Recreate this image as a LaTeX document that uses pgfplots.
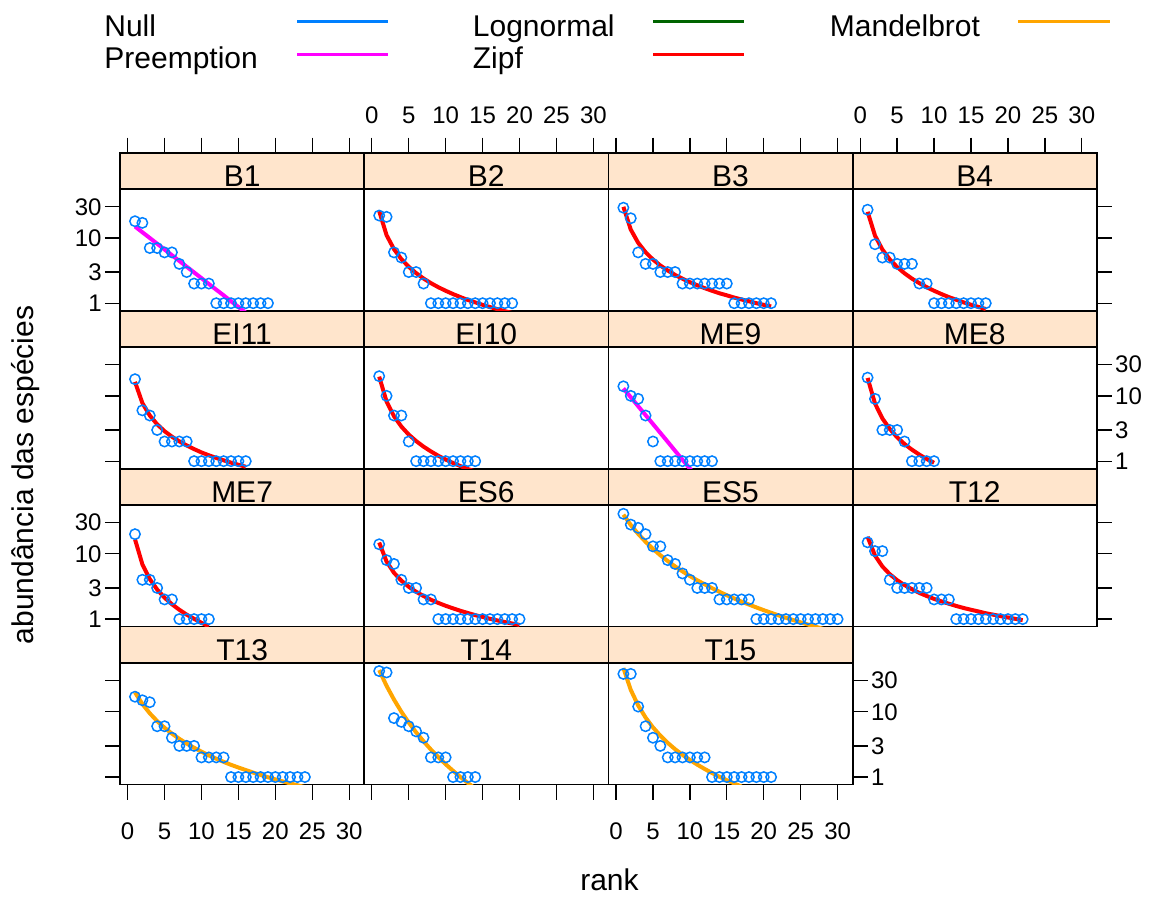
\documentclass[border=0pt]{standalone}
\usepackage{pgfplots}
\pgfplotsset{compat=1.18}
\usepackage{fontspec}
\setmainfont{Liberation Sans}

\definecolor{nullblue}{HTML}{0080FF}
\definecolor{premag}{HTML}{FF00FF}
\definecolor{lognorm}{HTML}{006400}
\definecolor{zipfred}{HTML}{FF0000}
\definecolor{mandel}{HTML}{FFA500}
\definecolor{stripbg}{HTML}{FFE5CC}

\newcommand\lab{\fontsize{15}{18}\selectfont}
\newcommand\tickf{\fontsize{12}{14}\selectfont}

\pgfplotsset{
  radbase/.style={scale only axis, width=122.1pt, xmin=-1.03, xmax=32.03,
    anchor=south west, axis line style={line width=0.9pt},
    tick align=outside, major tick length=7.5pt,
    tick style={black, line width=0.65pt},
    xtick=\empty, ytick=\empty,
    /pgf/number format/assume math mode=true,
    tick label style={font=\tickf}},
  radpanel/.style={radbase, height=60.675pt, ymin=0.769, ymax=55.5, clip=true},
  radstrip/.style={radbase, height=18.3pt, ymin=0, ymax=1,
    axis background/.style={fill=stripbg}},
  yL/.style={ytick={1,3,10,30}, yticklabels={1,3,10,30}, ytick pos=left, yticklabel pos=left,
    yticklabel style={inner sep=1.5pt}},
  yLn/.style={ytick={1,3,10,30}, yticklabels={}, ytick pos=left},
  yR/.style={ytick={1,3,10,30}, yticklabels={1,3,10,30}, ytick pos=right, yticklabel pos=right,
    yticklabel style={inner sep=1.5pt}},
  yRn/.style={ytick={1,3,10,30}, yticklabels={}, ytick pos=right},
  xB/.style={xtick={0,5,...,30}, xtick pos=left, xticklabel pos=left,
    xticklabel style={yshift=-8pt}},
  xBn/.style={xtick={0,5,...,30}, xticklabels={}, xtick pos=left},
  xT/.style={xtick={0,5,...,30}, xtick pos=right, xticklabel pos=right,
    xticklabel style={yshift=3.5pt}},
  xTn/.style={xtick={0,5,...,30}, xticklabels={}, xtick pos=right},
  pts/.style={only marks, mark=o, color=nullblue, mark size=2.6pt,
    mark options={line width=0.75pt}},
  radfit/.style={no marks, line width=2pt},
}

% strip above a panel: position, label, extra axis options
\newcommand\strip[4]{%
  \begin{axis}[radstrip, at={(#1,#2)}, #4]
    \node[anchor=base, font=\lab, inner sep=0pt] at (axis description cs:0.5,0.085) {#3};
  \end{axis}}

\begin{document}
\begin{tikzpicture}

% ---- legend ----
\node[anchor=base west, inner sep=0pt, font=\lab] at (52pt,-18.25pt) {Null};
\node[anchor=base west, inner sep=0pt, font=\lab] at (52pt,-34pt) {Preemption};
\node[anchor=base west, inner sep=0pt, font=\lab] at (236.25pt,-18.25pt) {Lognormal};
\node[anchor=base west, inner sep=0pt, font=\lab] at (236.25pt,-34pt) {Zipf};
\node[anchor=base west, inner sep=0pt, font=\lab] at (414.75pt,-18.25pt) {Mandelbrot};
\draw[nullblue, line width=1.65pt] (148.5pt,-10.85pt) -- (194pt,-10.85pt);
\draw[premag, line width=1.65pt] (148.5pt,-27.15pt) -- (194pt,-27.15pt);
\draw[lognorm, line width=1.65pt] (326.5pt,-10.85pt) -- (372pt,-10.85pt);
\draw[zipfred, line width=1.65pt] (326.5pt,-27.15pt) -- (372pt,-27.15pt);
\draw[mandel, line width=1.65pt] (509pt,-10.85pt) -- (555pt,-10.85pt);

% ---- strips ----
\strip{60pt}{-94.65pt}{B1}{xTn}
\strip{182.1pt}{-94.65pt}{B2}{xT}
\strip{304.2pt}{-94.65pt}{B3}{xTn}
\strip{426.3pt}{-94.65pt}{B4}{xT}
\strip{60pt}{-173.625pt}{EI11}{}
\strip{182.1pt}{-173.625pt}{EI10}{}
\strip{304.2pt}{-173.625pt}{ME9}{}
\strip{426.3pt}{-173.625pt}{ME8}{}
\strip{60pt}{-252.6pt}{ME7}{}
\strip{182.1pt}{-252.6pt}{ES6}{}
\strip{304.2pt}{-252.6pt}{ES5}{}
\strip{426.3pt}{-252.6pt}{T12}{}
\strip{60pt}{-331.575pt}{T13}{}
\strip{182.1pt}{-331.575pt}{T14}{}
\strip{304.2pt}{-331.575pt}{T15}{}

% ---- row 1 ----
\begin{axis}[ymode=log, radpanel, yL, at={(60pt,-155.325pt)}]
\addplot[pts] coordinates {(1,18)(2,17)(3,7)(4,7)(5,6)(6,6)(7,4)(8,3)(9,2)(10,2)(11,2)
 (12,1)(13,1)(14,1)(15,1)(16,1)(17,1)(18,1)(19,1)};
\addplot[radfit, premag] coordinates {(1,14.96)(2,12.2)(3,9.98)(4,8.15)(5,6.65)(6,5.43)(7,4.44)
 (8,3.62)(9,2.96)(10,2.42)(11,1.97)(12,1.61)(13,1.32)(14,1.07)(15,0.877)(16,0.716)(17,0.585)
 (18,0.478)(19,0.390)};
\end{axis}

\begin{axis}[ymode=log, radpanel, at={(182.1pt,-155.325pt)}]
\addplot[pts] coordinates {(1,22)(2,21)(3,6)(4,5)(5,3)(6,3)(7,2)(8,1)(9,1)(10,1)(11,1)(12,1)
 (13,1)(14,1)(15,1)(16,1)(17,1)(18,1)(19,1)};
\addplot[radfit, zipfred] coordinates {(1,25.7)(2,11.0)(3,6.73)(4,4.74)(5,3.61)(6,2.89)(7,2.39)
 (8,2.03)(9,1.76)(10,1.55)(11,1.38)(12,1.24)(13,1.12)(14,1.03)(15,0.944)(16,0.873)(17,0.811)
 (18,0.756)(19,0.708)};
\end{axis}

\begin{axis}[ymode=log, radpanel, at={(304.2pt,-155.325pt)}]
\addplot[pts] coordinates {(1,29)(2,20)(3,6)(4,4)(5,4)(6,3)(7,3)(8,3)(9,2)(10,2)(11,2)(12,2)
 (13,2)(14,2)(15,2)(16,1)(17,1)(18,1)(19,1)(20,1)(21,1)};
\addplot[radfit, zipfred] coordinates {(1,29.9)(2,13.4)(3,8.41)(4,6.04)(5,4.67)(6,3.78)(7,3.17)
 (8,2.71)(9,2.37)(10,2.10)(11,1.88)(12,1.70)(13,1.55)(14,1.42)(15,1.32)(16,1.22)(17,1.14)
 (18,1.07)(19,1.00)(20,0.944)(21,0.892)};
\end{axis}

\begin{axis}[ymode=log, radpanel, yRn, at={(426.3pt,-155.325pt)}]
\addplot[pts] coordinates {(1,27)(2,8)(3,5)(4,5)(5,4)(6,4)(7,4)(8,2)(9,2)(10,1)(11,1)(12,1)
 (13,1)(14,1)(15,1)(16,1)(17,1)};
\addplot[radfit, zipfred] coordinates {(1,25.1)(2,10.86)(3,6.65)(4,4.69)(5,3.58)(6,2.87)(7,2.38)
 (8,2.03)(9,1.76)(10,1.55)(11,1.38)(12,1.24)(13,1.13)(14,1.03)(15,0.948)(16,0.877)(17,0.815)};
\end{axis}

% ---- row 2 ----
\begin{axis}[ymode=log, radpanel, yLn, at={(60pt,-234.3pt)}]
\addplot[pts] coordinates {(1,18)(2,6)(3,5)(4,3)(5,2)(6,2)(7,2)(8,2)(9,1)(10,1)(11,1)(12,1)
 (13,1)(14,1)(15,1)(16,1)};
\addplot[radfit, zipfred] coordinates {(1,16.4)(2,7.76)(3,5.01)(4,3.67)(5,2.88)(6,2.37)(7,2.01)
 (8,1.74)(9,1.53)(10,1.36)(11,1.23)(12,1.12)(13,1.03)(14,0.949)(15,0.881)(16,0.821)};
\end{axis}

\begin{axis}[ymode=log, radpanel, at={(182.1pt,-234.3pt)}]
\addplot[pts] coordinates {(1,20)(2,10)(3,5)(4,5)(5,2)(6,1)(7,1)(8,1)(9,1)(10,1)(11,1)(12,1)
 (13,1)(14,1)};
\addplot[radfit, zipfred] coordinates {(1,19.7)(2,8.18)(3,4.89)(4,3.39)(5,2.55)(6,2.03)(7,1.67)
 (8,1.41)(9,1.21)(10,1.06)(11,0.938)(12,0.840)(13,0.759)(14,0.691)};
\end{axis}

\begin{axis}[ymode=log, radpanel, at={(304.2pt,-234.3pt)}]
\addplot[pts] coordinates {(1,14)(2,10)(3,9)(4,5)(5,2)(6,1)(7,1)(8,1)(9,1)(10,1)(11,1)(12,1)
 (13,1)};
\addplot[radfit, premag] coordinates {(1,13.0)(2,9.52)(3,6.95)(4,5.08)(5,3.71)(6,2.71)(7,1.98)
 (8,1.44)(9,1.05)(10,0.770)(11,0.562)(12,0.411)(13,0.300)};
\end{axis}

\begin{axis}[ymode=log, radpanel, yR, at={(426.3pt,-234.3pt)}]
\addplot[pts] coordinates {(1,19)(2,9)(3,3)(4,3)(5,3)(6,2)(7,1)(8,1)(9,1)(10,1)};
\addplot[radfit, zipfred] coordinates {(1,18.8)(2,7.65)(3,4.52)(4,3.11)(5,2.32)(6,1.83)(7,1.50)
 (8,1.26)(9,1.08)(10,0.944)};
\end{axis}

% ---- row 3 ----
\begin{axis}[ymode=log, radpanel, yL, at={(60pt,-313.275pt)}]
\addplot[pts] coordinates {(1,20)(2,4)(3,4)(4,3)(5,2)(6,2)(7,1)(8,1)(9,1)(10,1)(11,1)};
\addplot[radfit, zipfred] coordinates {(1,16.7)(2,6.90)(3,4.10)(4,2.84)(5,2.13)(6,1.69)(7,1.39)
 (8,1.17)(9,1.01)(10,0.879)(11,0.778)};
\end{axis}

\begin{axis}[ymode=log, radpanel, at={(182.1pt,-313.275pt)}]
\addplot[pts] coordinates {(1,14)(2,8)(3,7)(4,4)(5,3)(6,3)(7,2)(8,2)(9,1)(10,1)(11,1)(12,1)
 (13,1)(14,1)(15,1)(16,1)(17,1)(18,1)(19,1)(20,1)};
\addplot[radfit, zipfred] coordinates {(1,14.9)(2,7.60)(3,5.13)(4,3.88)(5,3.13)(6,2.62)(7,2.26)
 (8,1.98)(9,1.77)(10,1.60)(11,1.46)(12,1.34)(13,1.24)(14,1.15)(15,1.08)(16,1.01)(17,0.954)
 (18,0.902)(19,0.856)(20,0.815)};
\end{axis}

\begin{axis}[ymode=log, radpanel, at={(304.2pt,-313.275pt)}]
\addplot[pts] coordinates {(1,41)(2,28)(3,25)(4,20)(5,13)(6,13)(7,8)(8,7)(9,5)(10,4)(11,3)
 (12,3)(13,3)(14,2)(15,2)(16,2)(17,2)(18,2)(19,1)(20,1)(21,1)(22,1)(23,1)(24,1)(25,1)(26,1)
 (27,1)(28,1)(29,1)(30,1)};
\addplot[radfit, mandel] coordinates {(1,39.8)(2,27.6)(3,20.2)(4,15.28)(5,11.91)(6,9.51)(7,7.75)
 (8,6.41)(9,5.38)(10,4.57)(11,3.93)(12,3.41)(13,2.98)(14,2.62)(15,2.32)(16,2.07)(17,1.85)
 (18,1.67)(19,1.51)(20,1.37)(21,1.25)(22,1.14)(23,1.05)(24,0.966)(25,0.891)(26,0.825)
 (27,0.765)(28,0.711)(29,0.663)(30,0.619)};
\end{axis}

\begin{axis}[ymode=log, radpanel, yRn, at={(426.3pt,-313.275pt)}]
\addplot[pts] coordinates {(1,15)(2,11)(3,11)(4,4)(5,3)(6,3)(7,3)(8,3)(9,3)(10,2)(11,2)(12,2)
 (13,1)(14,1)(15,1)(16,1)(17,1)(18,1)(19,1)(20,1)(21,1)(22,1)};
\addplot[radfit, zipfred] coordinates {(1,18.2)(2,9.42)(3,6.41)(4,4.88)(5,3.94)(6,3.32)(7,2.87)
 (8,2.52)(9,2.26)(10,2.04)(11,1.87)(12,1.72)(13,1.59)(14,1.48)(15,1.39)(16,1.31)(17,1.23)
 (18,1.17)(19,1.11)(20,1.06)(21,1.01)(22,0.965)};
\end{axis}

% ---- row 4 ----
\begin{axis}[ymode=log, radpanel, yLn, xB, at={(60pt,-392.25pt)}]
\addplot[pts] coordinates {(1,17)(2,15)(3,14)(4,6)(5,6)(6,4)(7,3)(8,3)(9,3)(10,2)(11,2)(12,2)
 (13,2)(14,1)(15,1)(16,1)(17,1)(18,1)(19,1)(20,1)(21,1)(22,1)(23,1)(24,1)};
\addplot[radfit, mandel] coordinates {(1,19.8)(2,13.15)(3,9.47)(4,7.20)(5,5.69)(6,4.63)(7,3.85)
 (8,3.26)(9,2.81)(10,2.45)(11,2.15)(12,1.91)(13,1.71)(14,1.54)(15,1.40)(16,1.28)(17,1.17)
 (18,1.08)(19,0.994)(20,0.922)(21,0.858)(22,0.800)(23,0.749)(24,0.702)};
\end{axis}

\begin{axis}[ymode=log, radpanel, xBn, at={(182.1pt,-392.25pt)}]
\addplot[pts] coordinates {(1,42)(2,40)(3,8)(4,7)(5,6)(6,5)(7,4)(8,2)(9,2)(10,2)(11,1)(12,1)
 (13,1)(14,1)};
\addplot[radfit, mandel] coordinates {(1,43.5)(2,24.9)(3,15.4)(4,10.0)(5,6.84)(6,4.84)(7,3.53)
 (8,2.64)(9,2.02)(10,1.57)(11,1.245)(12,1.0)(13,0.812)(14,0.667)};
\end{axis}

\begin{axis}[ymode=log, radpanel, yR, xB, at={(304.2pt,-392.25pt)}]
\addplot[pts] coordinates {(1,38)(2,38)(3,12)(4,6)(5,4)(6,3)(7,2)(8,2)(9,2)(10,2)(11,2)(12,2)
 (13,1)(14,1)(15,1)(16,1)(17,1)(18,1)(19,1)(20,1)(21,1)};
\addplot[radfit, mandel] coordinates {(1,46.6)(2,21.6)(3,12.5)(4,8.17)(5,5.77)(6,4.31)(7,3.34)
 (8,2.67)(9,2.19)(10,1.83)(11,1.55)(12,1.33)(13,1.155)(14,1.01)(15,0.896)(16,0.798)(17,0.716)};
\end{axis}

% ---- axis titles ----
\node[rotate=90, font=\lab] at (13pt,-237.5pt) {abundância das espécies};
\node[anchor=base, font=\lab, inner sep=0pt] at (304.75pt,-445pt) {rank};

\pgfresetboundingbox
\path (0pt,0pt) rectangle (579pt,-448pt);
\end{tikzpicture}
\end{document}
